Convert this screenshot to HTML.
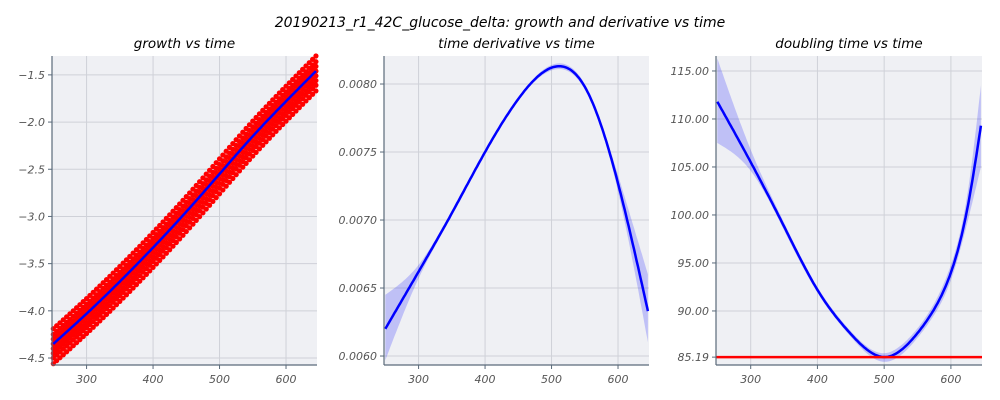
<!DOCTYPE html>
<html><head><meta charset="utf-8">
<style>
html,body{margin:0;padding:0;background:#fff;}
svg{display:block;font-family:"DejaVu Sans","Liberation Sans",sans-serif;}
.tick{font-size:11px;font-style:italic;fill:#555;}
.ttl{font-size:13.5px;font-style:italic;fill:#000;}
</style></head>
<body>
<svg id="chart" width="1000" height="400" viewBox="0 0 1000 400">
<text x="500" y="27" text-anchor="middle" style="font-size:14px;font-style:italic">20190213_r1_42C_glucose_delta: growth and derivative vs time</text>
</svg>
<script>
// shared time grid
const times = [250, 300, 350, 400, 450, 500, 550, 600, 645];
// growth fit
const growthFit = [-4.35, -4.03, -3.69, -3.33, -2.95, -2.55, -2.15, -1.78, -1.46];
// replicate offsets of scatter points around fit
const replicateOffsets = [-0.21, -0.15, -0.1, -0.05, 0.0, 0.05, 0.1, 0.16];
const scatterStep = 5;
// derivative
const deriv = [0.00620, 0.00662, 0.00705, 0.00750, 0.00789, 0.00812, 0.00798, 0.00727, 0.00633];
const derivLo = [0.00597, 0.00657, 0.00703, 0.00749, 0.00788, 0.00810, 0.00796, 0.00721, 0.00610];
const derivHi = [0.00645, 0.00667, 0.00707, 0.00751, 0.00790, 0.00814, 0.00800, 0.00733, 0.00660];
// doubling time (own time grid)
const dblTimes = [250, 300, 350, 400, 450, 500, 525, 550, 575, 600, 625, 645];
const dbl = [111.8, 105.5, 98.8, 92.2, 87.6, 85.2, 85.9, 87.7, 90.2, 94.0, 100.8, 109.3];
const dblLo = [107.5, 104.6, 98.4, 91.9, 87.3, 84.7, 85.4, 87.2, 89.6, 93.2, 99.3, 105.0];
const dblHi = [116.3, 106.8, 99.2, 92.5, 87.9, 85.6, 86.4, 88.2, 90.8, 94.8, 102.3, 113.5];
const minDbl = 85.19;
// ticks
const xTicks = [300, 400, 500, 600];
const yTicks1 = [-1.5, -2.0, -2.5, -3.0, -3.5, -4.0, -4.5];
const yTicks2 = [0.0060, 0.0065, 0.0070, 0.0075, 0.0080];
const yTicks3 = [85.19, 90, 95, 100, 105, 110, 115];

const NS = "http://www.w3.org/2000/svg";
const svg = document.getElementById('chart');
function mk(tag, attrs, parent){const e=document.createElementNS(NS,tag);for(const k in attrs)e.setAttribute(k,attrs[k]);(parent||svg).appendChild(e);return e;}

// natural cubic spline
function interp(xs, ys, x){
  const n=xs.length, h=[], a=[], l=[1], mu=[0], z=[0], c=new Array(n).fill(0), b=[], d=[];
  for(let i=0;i<n-1;i++) h[i]=xs[i+1]-xs[i];
  for(let i=1;i<n-1;i++) a[i]=3/h[i]*(ys[i+1]-ys[i])-3/h[i-1]*(ys[i]-ys[i-1]);
  for(let i=1;i<n-1;i++){ l[i]=2*(xs[i+1]-xs[i-1])-h[i-1]*mu[i-1]; mu[i]=h[i]/l[i]; z[i]=(a[i]-h[i-1]*z[i-1])/l[i]; }
  for(let j=n-2;j>=0;j--){ c[j]=(j>0?z[j]:0)-mu[j]*c[j+1]; if(j===0) c[0]=0; b[j]=(ys[j+1]-ys[j])/h[j]-h[j]*(c[j+1]+2*c[j])/3; d[j]=(c[j+1]-c[j])/(3*h[j]); }
  let i=0; while(i<n-2 && x>xs[i+1]) i++;
  const dx=x-xs[i];
  return ys[i]+b[i]*dx+c[i]*dx*dx+d[i]*dx*dx*dx;
}

function panel(name, L, R, T, B, xmin, xmax, ymin, ymax, yTicks, fmt, title){
  const g = mk('g',{});
  
  
  const sx = v => L + (v - xmin) / (xmax - xmin) * (R - L);
  const sy = v => B - (v - ymin) / (ymax - ymin) * (B - T);
  const bg = mk('rect',{x:L,y:T,width:R-L,height:B-T,fill:'#eff0f4'},g);
  
  
  xTicks.forEach(v=>{
    mk('line',{x1:sx(v),x2:sx(v),y1:T,y2:B,stroke:'#cfd1d8','stroke-width':1},g);
    mk('line',{x1:sx(v),x2:sx(v),y1:B,y2:B+4,stroke:'#5a6a7a','stroke-width':1},g);
    const t=mk('text',{x:sx(v),y:B+18,'text-anchor':'middle',class:'tick'},g);t.textContent=v;
    
    
  });
  yTicks.forEach(v=>{
    mk('line',{x1:L,x2:R,y1:sy(v),y2:sy(v),stroke:'#cfd1d8','stroke-width':1},g);
    mk('line',{x1:L-4,x2:L,y1:sy(v),y2:sy(v),stroke:'#5a6a7a','stroke-width':1},g);
    const t=mk('text',{x:L-7,y:sy(v)+4,'text-anchor':'end',class:'tick'},g);t.textContent=fmt(v);
    
    
  });
  const tt=mk('text',{x:(L+R)/2,y:T-8,'text-anchor':'middle',class:'ttl'},g);tt.textContent=title;
  
  
  return {g,sx,sy,L,R,T,B};
}
function spines(p){
  mk('line',{x1:p.L,x2:p.L,y1:p.T,y2:p.B,stroke:'#5a6a7a','stroke-width':1.2},p.g);
  mk('line',{x1:p.L,x2:p.R,y1:p.B,y2:p.B,stroke:'#5a6a7a','stroke-width':1.2},p.g);
}
function curvePath(p, xs, ys){
  let d='';
  for(let x=xs[0]; x<=xs[xs.length-1]; x+=2){
    d += (d?'L':'M') + p.sx(x).toFixed(1)+','+p.sy(interp(xs,ys,x)).toFixed(1);
  }
  const xe=xs[xs.length-1]; d+='L'+p.sx(xe).toFixed(1)+','+p.sy(ys[ys.length-1]).toFixed(1);
  return d;
}
function bandPath(p, xs, lo, hi){
  let up=[],dn=[];
  for(let x=xs[0]; x<=xs[xs.length-1]; x+=2){
    up.push(p.sx(x).toFixed(1)+','+p.sy(interp(xs,hi,x)).toFixed(1));
    dn.push(p.sx(x).toFixed(1)+','+p.sy(interp(xs,lo,x)).toFixed(1));
  }
  const xe=xs[xs.length-1];
  up.push(p.sx(xe).toFixed(1)+','+p.sy(hi[hi.length-1]).toFixed(1));
  dn.push(p.sx(xe).toFixed(1)+','+p.sy(lo[lo.length-1]).toFixed(1));
  return 'M'+up.join('L')+'L'+dn.reverse().join('L')+'Z';
}

// Panel 1: growth
const p1 = panel('growth-panel', 52, 317, 56, 365, 248, 646.6, -4.574, -1.30, yTicks1, v=>v.toFixed(1).replace('-','\u2212'), 'growth vs time');
for(let x=times[0]; x<=times[times.length-1]; x+=scatterStep){
  const f = interp(times, growthFit, x);
  replicateOffsets.forEach(o=>{
    const c = mk('circle',{cx:p1.sx(x),cy:p1.sy(f+o),r:2.6,fill:'#ff0000'},p1.g);
    
    
  });
}
const l1 = mk('path',{d:curvePath(p1,times,growthFit),fill:'none',stroke:'#0000ff','stroke-width':2.5},p1.g);


spines(p1);

// Panel 2: derivative
const p2 = panel('derivative-panel', 384, 649, 56, 365, 248, 646.6, 0.005934, 0.008206, yTicks2, v=>v.toFixed(4), 'time derivative vs time');
const b2 = mk('path',{d:bandPath(p2,times,derivLo,derivHi),fill:'#0000ff','fill-opacity':0.2},p2.g);


const l2 = mk('path',{d:curvePath(p2,times,deriv),fill:'none',stroke:'#0000ff','stroke-width':2.5},p2.g);


spines(p2);

// Panel 3: doubling time
const p3 = panel('doubling-panel', 716, 982, 56, 365, 248, 646.6, 84.37, 116.56, yTicks3, v=>v.toFixed(2), 'doubling time vs time');
const b3 = mk('path',{d:bandPath(p3,dblTimes,dblLo,dblHi),fill:'#0000ff','fill-opacity':0.2},p3.g);


const l3 = mk('path',{d:curvePath(p3,dblTimes,dbl),fill:'none',stroke:'#0000ff','stroke-width':2.5},p3.g);


const m3 = mk('line',{x1:p3.L,x2:p3.R,y1:p3.sy(minDbl),y2:p3.sy(minDbl),stroke:'#ff0000','stroke-width':2.5},p3.g);


spines(p3);
</script>
</body></html>
